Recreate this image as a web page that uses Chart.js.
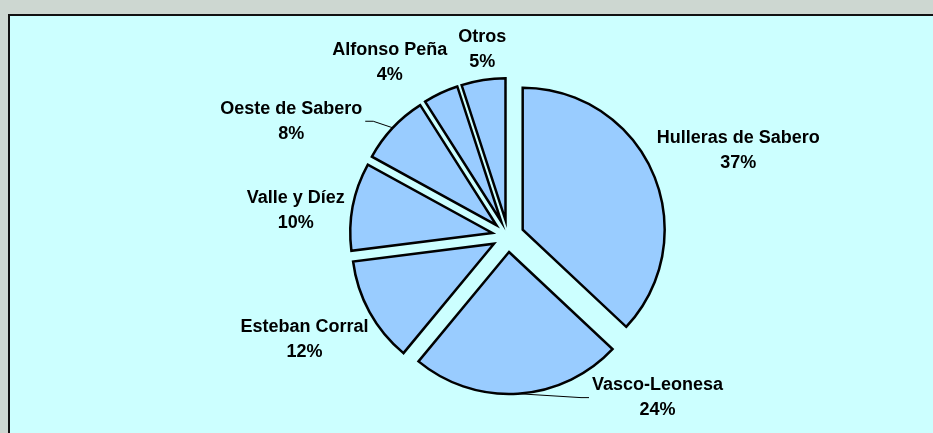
<!DOCTYPE html>
<html>
<head>
<meta charset="utf-8">
<script src="https://cdn.jsdelivr.net/npm/chart.js@4/dist/chart.umd.min.js"></script>
<style>
    html, body { margin: 0; padding: 0; background: #cdd7d1; }
    #wrap { width: 933px; height: 433px; position: relative; }
</style>
</head>
<body>
<div id="wrap"><canvas id="pieChart"></canvas></div>
<script>
const companies = ["Hulleras de Sabero", "Vasco-Leonesa", "Esteban Corral", "Valle y Díez", "Oeste de Sabero", "Alfonso Peña", "Otros"];
const shares = [37, 24, 12, 10, 8, 4, 5];

// label nudges relative to the default radial spot (dx, dy)
const labelNudge = [[3, -10], [135, -29], [-2, 12], [-1, 10], [-44, 16], [-23, -1], [4, 2]];
const leaderLines = [false, true, false, false, true, false, false];

const EXPLODE = 16;   // px every slice is pulled out from the centre
const FONT = "bold 18px 'Liberation Sans', Arial, sans-serif";
const LINE_H = 25;

// background + framed plot area
const framePlugin = {
    id: "frame",
    beforeDraw(chart) {
        const ctx = chart.ctx;
        ctx.save();
        ctx.fillStyle = "#cdd7d1";
        ctx.fillRect(0, 0, chart.width, chart.height);
        ctx.fillStyle = "#ccffff";
        ctx.fillRect(9, 15, chart.width, chart.height);
        ctx.strokeStyle = "#111";
        ctx.lineWidth = 2;
        ctx.strokeRect(9, 15, chart.width + 10, chart.height + 10);
        ctx.restore();
    }
};

// exploded slices: same radius for all, shifted along their mid angle
// (chart.js offset also grows small slices, so draw the arcs here instead)
const explodePlugin = {
    id: "explode",
    beforeDatasetDraw(chart, args) {
        const ctx = chart.ctx;
        const meta = chart.getDatasetMeta(args.index);
        meta.data.forEach(arc => {
            const o = arc.options;
            const mid = (arc.startAngle + arc.endAngle) / 2;
            const x = arc.x + Math.cos(mid) * EXPLODE;
            const y = arc.y + Math.sin(mid) * EXPLODE;
            ctx.save();
            ctx.beginPath();
            ctx.moveTo(x, y);
            ctx.arc(x, y, arc.outerRadius, arc.startAngle, arc.endAngle);
            ctx.closePath();
            ctx.fillStyle = o.backgroundColor;
            ctx.fill();
            ctx.lineWidth = o.borderWidth;
            ctx.strokeStyle = o.borderColor;
            ctx.lineJoin = "miter";
            ctx.stroke();
            ctx.restore();
        });
        return false;
    }
};

// outside labels: name + percent, some with leader lines
const labelPlugin = {
    id: "sliceLabels",
    afterDatasetsDraw(chart) {
        const ctx = chart.ctx;
        const meta = chart.getDatasetMeta(0);
        ctx.save();
        ctx.font = FONT;
        ctx.fillStyle = "#000";
        ctx.textAlign = "center";
        ctx.textBaseline = "middle";

        meta.data.forEach((arc, i) => {
            const mid = (arc.startAngle + arc.endAngle) / 2;
            const dx = Math.cos(mid), dy = Math.sin(mid);
            const pct = shares[i] + "%";
            const w = Math.max(ctx.measureText(companies[i]).width, ctx.measureText(pct).width);
            const h = LINE_H * 2;
            const r = arc.outerRadius + 24;
            const cx = arc.x + r * dx + dx * w / 2 + labelNudge[i][0];
            const cy = arc.y + r * dy + dy * h / 2 + labelNudge[i][1];

            ctx.fillText(companies[i], cx, cy - LINE_H / 2);
            ctx.fillText(pct, cx, cy + LINE_H / 2);

            if (leaderLines[i]) {
                const ex = arc.x + (arc.outerRadius + EXPLODE) * dx;
                const ey = arc.y + (arc.outerRadius + EXPLODE) * dy;
                const side = ex > cx ? 1 : -1;
                const sx = cx + side * (w / 2 + 3);
                ctx.beginPath();
                ctx.lineWidth = 1;
                ctx.strokeStyle = "#000";
                ctx.moveTo(sx, cy);
                ctx.lineTo(sx + side * 8, cy);
                ctx.lineTo(ex, ey);
                ctx.stroke();
            }
        });
        ctx.restore();
    }
};

new Chart(document.getElementById("pieChart"), {
    type: "pie",
    data: {
        labels: companies,
        datasets: [{
            data: shares,
            backgroundColor: "#99ccff",
            borderColor: "#000",
            borderWidth: 2.5
        }]
    },
    options: {
        responsive: true,
        maintainAspectRatio: false,
        animation: false,
        radius: 142,
        layout: { padding: { left: 100, right: 17, top: 60, bottom: 21 } },
        plugins: {
            legend: { display: false },
            tooltip: { enabled: false }
        }
    },
    plugins: [framePlugin, explodePlugin, labelPlugin]
});
</script>
</body>
</html>
